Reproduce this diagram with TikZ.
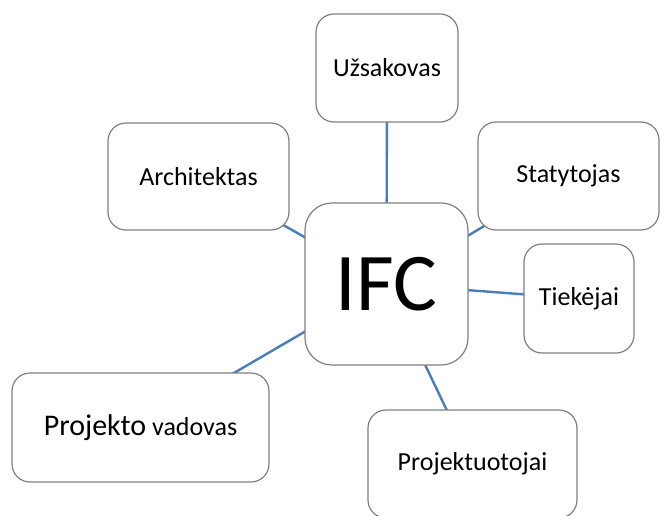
\documentclass[tikz,border=0pt]{standalone}
\usepackage{fontspec}
\setmainfont{Carlito}
\usetikzlibrary{backgrounds}
\definecolor{boxgray}{HTML}{808080}
\definecolor{linkblue}{HTML}{4A7EBB}
\begin{document}
\begin{tikzpicture}[x=1pt,y=-1pt,
  box/.style={draw=boxgray, line width=1.2pt, fill=white, rounded corners=18pt,
              inner sep=0pt, align=center, font=\fontsize{26}{30}\selectfont},
  link/.style={draw=linkblue, line width=2.4pt}]
\useasboundingbox (0,0) rectangle (662,515);

% surrounding roles
\node[box, minimum width=142pt, minimum height=108pt] (uzs)  at (387,68)      {Užsakovas};
\node[box, minimum width=181pt, minimum height=108pt] (stat) at (568.5,176)   {Statytojas};
\node[box, minimum width=181pt, minimum height=107pt] (arch) at (198.5,176.5) {Architektas};
\node[box, minimum width=110pt, minimum height=109pt] (tiek) at (579,298.5)   {Tiekėjai};
\node[box, minimum width=257pt, minimum height=109pt] (pv)   at (140.5,427.5)
  {{\fontsize{30}{34}\selectfont Projekto} vadovas};
\node[box, minimum width=209pt, minimum height=108pt] (proj) at (472.5,464)   {Projektuotojai};

% central hub
\node[box, rounded corners=27pt, minimum width=163pt, minimum height=162pt,
      font=\fontsize{82}{90}\selectfont] (ifc) at (386.5,284) {IFC};

% spokes, drawn centre to centre behind the filled boxes
\begin{scope}[on background layer]
  \fill[white] (0,0) rectangle (662,515);
  \draw[link] (ifc.center) -- (uzs.center);
  \draw[link] (ifc.center) -- (stat.center);
  \draw[link] (ifc.center) -- (arch.center);
  \draw[link] (ifc.center) -- (tiek.center);
  \draw[link] (ifc.center) -- (pv.center);
  \draw[link] (ifc.center) -- (proj.center);
\end{scope}
\end{tikzpicture}
\end{document}
